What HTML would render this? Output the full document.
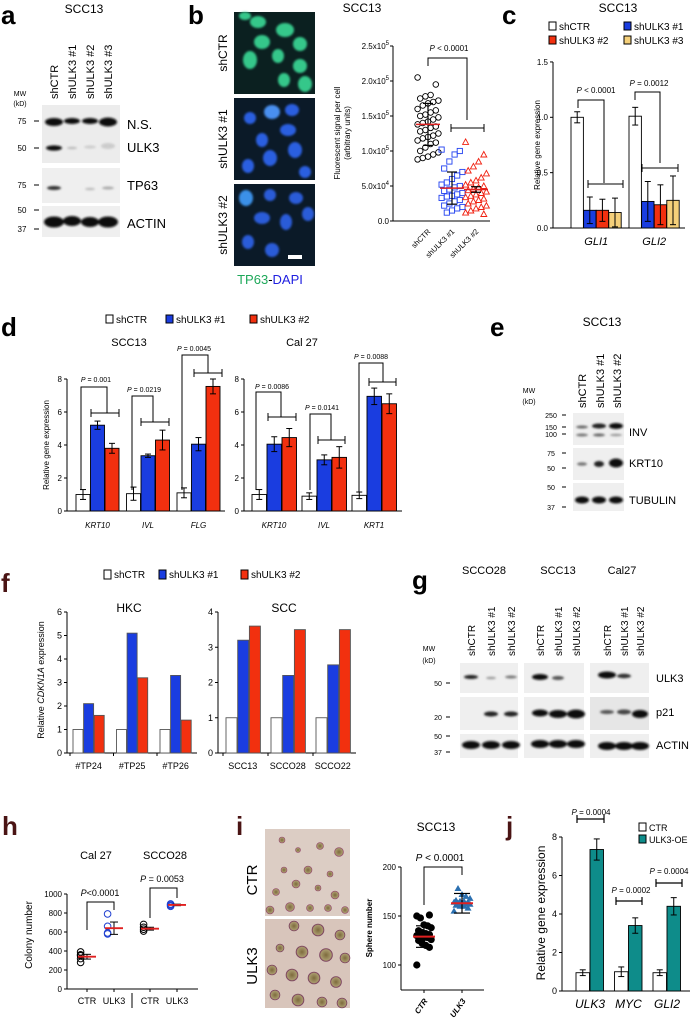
<!DOCTYPE html>
<html><head><meta charset="utf-8"><title>ULK3 figure</title>
<style>html,body{margin:0;padding:0;background:#fff}svg{display:block}</style></head>
<body>
<svg id="fig" xmlns="http://www.w3.org/2000/svg" width="697" height="1019" viewBox="0 0 697 1019" font-family="Liberation Sans, Arial, sans-serif">
<defs>
<filter id="bl" x="-50%" y="-100%" width="200%" height="300%"><feGaussianBlur stdDeviation="1.1"/></filter>
<filter id="bl2" x="-50%" y="-50%" width="200%" height="200%"><feGaussianBlur stdDeviation="1.6"/></filter>
<radialGradient id="sph" cx="50%" cy="50%" r="50%"><stop offset="0" stop-color="#7d6a3c"/><stop offset="0.8" stop-color="#a89a6c"/><stop offset="1" stop-color="#7a3a5a"/></radialGradient>
</defs>
<rect x="0" y="0" width="697" height="1019" fill="#fff"/>

<!-- Panel a -->
<g>
<text x="1" y="24" font-size="26" font-weight="bold">a</text>
<text x="84" y="13" text-anchor="middle" font-size="12">SCC13</text>
<g font-size="11">
<text transform="translate(58,99) rotate(-90)">shCTR</text>
<text transform="translate(76,99) rotate(-90)">shULK3 #1</text>
<text transform="translate(94,99) rotate(-90)">shULK3 #2</text>
<text transform="translate(112,99) rotate(-90)">shULK3 #3</text>
</g>
<text x="20" y="96" text-anchor="middle" font-size="7">MW</text>
<text x="20" y="106" text-anchor="middle" font-size="7">(kD)</text>
<rect x="42" y="105" width="78" height="58" fill="#ececec"/>
<g filter="url(#bl)" fill="#111">
<ellipse cx="54" cy="122" rx="9" ry="4"/><ellipse cx="72" cy="121" rx="8" ry="3"/><ellipse cx="90" cy="121" rx="8" ry="3"/><ellipse cx="108" cy="122" rx="9" ry="4.5"/>
<ellipse cx="54" cy="148" rx="8" ry="2.6"/><ellipse cx="72" cy="148" rx="5" ry="1.2" fill="#bbb"/><ellipse cx="90" cy="147" rx="6" ry="1.5" fill="#ccc"/><ellipse cx="108" cy="146" rx="7" ry="3" fill="#ccc"/>
</g>
<g font-size="8"><text x="22" y="124" text-anchor="middle">75</text><text x="22" y="151" text-anchor="middle">50</text>
<text x="22" y="188" text-anchor="middle">75</text><text x="22" y="213" text-anchor="middle">50</text><text x="22" y="232" text-anchor="middle">37</text></g>
<g stroke="#000" stroke-width="1"><line x1="34" y1="121" x2="39" y2="121"/><line x1="34" y1="148" x2="39" y2="148"/><line x1="34" y1="185" x2="39" y2="185"/><line x1="34" y1="210" x2="39" y2="210"/><line x1="34" y1="229" x2="39" y2="229"/></g>
<text x="127" y="129" font-size="13">N.S.</text>
<text x="127" y="152" font-size="13">ULK3</text>
<rect x="42" y="168" width="78" height="35" fill="#efefef"/>
<g filter="url(#bl)"><ellipse cx="54" cy="188" rx="7" ry="2" fill="#333"/><ellipse cx="90" cy="189" rx="5" ry="1.3" fill="#bbb"/><ellipse cx="108" cy="188" rx="6" ry="1.5" fill="#aaa"/></g>
<text x="127" y="190" font-size="13">TP63</text>
<rect x="42" y="206" width="78" height="31" fill="#efefef"/>
<g filter="url(#bl)" fill="#0a0a0a"><ellipse cx="54" cy="222" rx="10" ry="5.5"/><ellipse cx="72" cy="221" rx="9" ry="5"/><ellipse cx="90" cy="222" rx="9" ry="5"/><ellipse cx="108" cy="222" rx="10" ry="5.5"/></g>
<text x="127" y="228" font-size="13">ACTIN</text>
</g>

<!-- Panel b images -->
<g>
<text x="188" y="24" font-size="26" font-weight="bold">b</text>
<rect x="234" y="12" width="81" height="82" fill="#0b2020"/>
<g fill="#35c78a" filter="url(#bl)">
<ellipse cx="258" cy="22" rx="8" ry="6"/><ellipse cx="285" cy="30" rx="9" ry="7"/><ellipse cx="262" cy="42" rx="8" ry="7"/><ellipse cx="250" cy="60" rx="7" ry="9"/><ellipse cx="300" cy="44" rx="7" ry="7"/><ellipse cx="278" cy="56" rx="6" ry="7"/><ellipse cx="300" cy="66" rx="7" ry="7"/><ellipse cx="305" cy="84" rx="7" ry="8"/><ellipse cx="284" cy="80" rx="6" ry="7"/><ellipse cx="245" cy="16" rx="6" ry="4"/></g>
<rect x="234" y="98" width="81" height="82" fill="#0b1a28"/>
<g fill="#2c5fe0" filter="url(#bl)">
<ellipse cx="272" cy="112" rx="8" ry="7" fill="#4a8ff0"/><ellipse cx="292" cy="110" rx="7" ry="6"/><ellipse cx="250" cy="118" rx="6" ry="6"/><ellipse cx="262" cy="140" rx="6" ry="7"/><ellipse cx="288" cy="130" rx="8" ry="6"/><ellipse cx="270" cy="158" rx="7" ry="8"/><ellipse cx="295" cy="150" rx="7" ry="8"/><ellipse cx="248" cy="166" rx="6" ry="7"/><ellipse cx="305" cy="172" rx="6" ry="6"/></g>
<rect x="234" y="184" width="81" height="82" fill="#0b1a28"/>
<g fill="#2a5cd8" filter="url(#bl)">
<ellipse cx="246" cy="198" rx="7" ry="8" fill="#3a90e8"/><ellipse cx="270" cy="195" rx="6" ry="6"/><ellipse cx="296" cy="198" rx="7" ry="6"/><ellipse cx="262" cy="218" rx="8" ry="6"/><ellipse cx="286" cy="222" rx="6" ry="8"/><ellipse cx="308" cy="214" rx="6" ry="7"/><ellipse cx="248" cy="242" rx="6" ry="7"/><ellipse cx="272" cy="250" rx="7" ry="7"/></g>
<rect x="288" y="255" width="14" height="4" fill="#fff"/>
<g font-size="12">
<text transform="translate(227,53) rotate(-90)" text-anchor="middle">shCTR</text>
<text transform="translate(227,139) rotate(-90)" text-anchor="middle">shULK3 #1</text>
<text transform="translate(227,225) rotate(-90)" text-anchor="middle">shULK3 #2</text>
</g>
<text x="270" y="284" text-anchor="middle" font-size="13"><tspan fill="#1ea85a">TP63</tspan>-<tspan fill="#2020e0">DAPI</tspan></text>
</g>

<!-- Panel b chart -->
<g id="chartB">
<text x="362" y="12" text-anchor="middle" font-size="12">SCC13</text>
<text transform="translate(340,133) rotate(-90)" text-anchor="middle" font-size="8">Fluorescent signal per cell</text>
<text transform="translate(350,133) rotate(-90)" text-anchor="middle" font-size="8">(arbitrary units)</text>
<text x="449" y="51" text-anchor="middle" font-size="8"><tspan font-style="italic">P</tspan> &lt; 0.0001</text>
<path d="M428 66 V58 H467 V120 M451 124 V132 M451 128 H484 M484 124 V132" fill="none" stroke="#000" stroke-width="1"/>
</g>

<!-- Panel c -->
<g id="chartC">
<text x="502" y="24" font-size="26" font-weight="bold">c</text>
<text x="618" y="12" text-anchor="middle" font-size="12">SCC13</text>
<g font-size="10">
<rect x="549" y="22" width="7" height="8" fill="#fff" stroke="#000"/><text x="559" y="30">shCTR</text>
<rect x="624" y="22" width="7" height="8" fill="#1a3de0" stroke="#000"/><text x="634" y="30">shULK3 #1</text>
<rect x="549" y="36" width="7" height="8" fill="#f2300f" stroke="#000"/><text x="559" y="44">shULK3 #2</text>
<rect x="624" y="36" width="7" height="8" fill="#f5d07a" stroke="#000"/><text x="634" y="44">shULK3 #3</text>
</g>
<text transform="translate(540,145) rotate(-90)" text-anchor="middle" font-size="8">Relative gene expression</text>
<g font-size="8"><text x="596" y="93" text-anchor="middle"><tspan font-style="italic">P</tspan> &lt; 0.0001</text><text x="649" y="86" text-anchor="middle"><tspan font-style="italic">P</tspan> = 0.0012</text></g>
<path d="M578 108 V100 H604 V183 M588 180 V188 M588 184 H623 M623 180 V188 M635 100 V92 H660 V163 M642 164 V172 M642 168 H678 M678 164 V172" fill="none" stroke="#000" stroke-width="1"/>
</g>

<!-- Panel d -->
<g id="chartD">
<text x="1" y="336" font-size="26" font-weight="bold">d</text>
<g font-size="10">
<rect x="106" y="315" width="7" height="8" fill="#fff" stroke="#000"/><text x="116" y="323">shCTR</text>
<rect x="166" y="315" width="7" height="8" fill="#1a3de0" stroke="#000"/><text x="176" y="323">shULK3 #1</text>
<rect x="250" y="315" width="7" height="8" fill="#f2300f" stroke="#000"/><text x="260" y="323">shULK3 #2</text>
</g>
<text x="129" y="346" text-anchor="middle" font-size="11">SCC13</text>
<text x="302" y="346" text-anchor="middle" font-size="11">Cal 27</text>
<text transform="translate(49,445) rotate(-90)" text-anchor="middle" font-size="8">Relative gene expression</text>
<g font-size="7">
<text x="96" y="382" text-anchor="middle"><tspan font-style="italic">P</tspan> = 0.001</text>
<text x="144" y="392" text-anchor="middle"><tspan font-style="italic">P</tspan> = 0.0219</text>
<text x="194" y="351" text-anchor="middle"><tspan font-style="italic">P</tspan> = 0.0045</text>
<text x="272" y="389" text-anchor="middle"><tspan font-style="italic">P</tspan> = 0.0086</text>
<text x="322" y="410" text-anchor="middle"><tspan font-style="italic">P</tspan> = 0.0141</text>
<text x="371" y="359" text-anchor="middle"><tspan font-style="italic">P</tspan> = 0.0088</text>
</g>
<path fill="none" stroke="#000" stroke-width="1"
d="M81 490 V387 H107 V413 M91 409 V417 M91 413 H119 M119 409 V417
M132 490 V396 H153 V422 M141 418 V426 M141 422 H169 M169 418 V426
M182 490 V355 H208 V373 M194 369 V377 M194 373 H222 M222 369 V377
M256 490 V392 H281 V417 M268 413 V421 M268 417 H296 M296 413 V421
M310 490 V414 H331 V440 M318 436 V444 M318 440 H345 M345 436 V444
M359 492 V363 H383 V382 M369 378 V386 M369 382 H396 M396 378 V386"/>
</g>

<!-- Panel e -->
<g>
<text x="490" y="336" font-size="26" font-weight="bold">e</text>
<text x="602" y="326" text-anchor="middle" font-size="12">SCC13</text>
<g font-size="11">
<text transform="translate(586,408) rotate(-90)">shCTR</text>
<text transform="translate(604,408) rotate(-90)">shULK3 #1</text>
<text transform="translate(621,408) rotate(-90)">shULK3 #2</text>
</g>
<text x="529" y="393" text-anchor="middle" font-size="7">MW</text><text x="529" y="404" text-anchor="middle" font-size="7">(kD)</text>
<g font-size="7"><text x="551" y="418" text-anchor="middle">250</text><text x="551" y="430" text-anchor="middle">150</text><text x="551" y="437" text-anchor="middle">100</text>
<text x="551" y="456" text-anchor="middle">75</text><text x="551" y="471" text-anchor="middle">50</text><text x="551" y="490" text-anchor="middle">50</text><text x="551" y="510" text-anchor="middle">37</text></g>
<g stroke="#000"><line x1="562" y1="415" x2="566" y2="415"/><line x1="562" y1="427" x2="566" y2="427"/><line x1="562" y1="434" x2="566" y2="434"/><line x1="562" y1="453" x2="566" y2="453"/><line x1="562" y1="468" x2="566" y2="468"/><line x1="562" y1="487" x2="566" y2="487"/><line x1="562" y1="507" x2="566" y2="507"/></g>
<rect x="573" y="413" width="51" height="32" fill="#efefef"/>
<g filter="url(#bl)"><ellipse cx="582" cy="427" rx="6" ry="1.5" fill="#666"/><ellipse cx="599" cy="426" rx="7" ry="2.5" fill="#222"/><ellipse cx="616" cy="426" rx="7" ry="3" fill="#111"/>
<ellipse cx="582" cy="435" rx="6" ry="1.5" fill="#777"/><ellipse cx="599" cy="435" rx="6" ry="1.5" fill="#666"/><ellipse cx="616" cy="435" rx="6" ry="1.3" fill="#999"/></g>
<text x="629" y="436" font-size="11">INV</text>
<rect x="573" y="448" width="51" height="32" fill="#efefef"/>
<g filter="url(#bl)"><ellipse cx="582" cy="464" rx="5" ry="1.8" fill="#777"/><ellipse cx="599" cy="464" rx="5" ry="3" fill="#222"/><ellipse cx="616" cy="463" rx="7" ry="4.5" fill="#0a0a0a"/></g>
<text x="629" y="467" font-size="11">KRT10</text>
<rect x="573" y="483" width="51" height="28" fill="#efefef"/>
<g filter="url(#bl)" fill="#111"><ellipse cx="582" cy="500" rx="7" ry="3.5"/><ellipse cx="599" cy="500" rx="7" ry="3.5"/><ellipse cx="616" cy="500" rx="7" ry="3.5"/></g>
<text x="629" y="504" font-size="11">TUBULIN</text>
</g>

<!-- Panel f -->
<g id="chartF">
<text x="1" y="592" font-size="26" font-weight="bold" fill="#4a1414">f</text>
<g font-size="10">
<rect x="104" y="570" width="7" height="9" fill="#fff" stroke="#000"/><text x="114" y="578">shCTR</text>
<rect x="159" y="570" width="7" height="9" fill="#1a3de0" stroke="#000"/><text x="169" y="578">shULK3 #1</text>
<rect x="241" y="570" width="7" height="9" fill="#f2300f" stroke="#000"/><text x="251" y="578">shULK3 #2</text>
</g>
<text x="129" y="612" text-anchor="middle" font-size="12">HKC</text>
<text x="284" y="612" text-anchor="middle" font-size="12">SCC</text>
<text transform="translate(44,680) rotate(-90)" text-anchor="middle" font-size="9">Relative <tspan font-style="italic">CDKN1A</tspan> expression</text>
</g>

<!-- Panel g -->
<g>
<text x="412" y="589" font-size="26" font-weight="bold">g</text>
<g font-size="11" text-anchor="middle"><text x="484" y="574">SCCO28</text><text x="558" y="574">SCC13</text><text x="622" y="574">Cal27</text></g>
<g font-size="10">
<text transform="translate(475,656) rotate(-90)">shCTR</text><text transform="translate(495,656) rotate(-90)">shULK3 #1</text><text transform="translate(515,656) rotate(-90)">shULK3 #2</text>
<text transform="translate(544,656) rotate(-90)">shCTR</text><text transform="translate(562,656) rotate(-90)">shULK3 #1</text><text transform="translate(580,656) rotate(-90)">shULK3 #2</text>
<text transform="translate(611,656) rotate(-90)">shCTR</text><text transform="translate(628,656) rotate(-90)">shULK3 #1</text><text transform="translate(644,656) rotate(-90)">shULK3 #2</text>
</g>
<text x="429" y="651" text-anchor="middle" font-size="7">MW</text><text x="429" y="663" text-anchor="middle" font-size="7">(kD)</text>
<g font-size="7"><text x="438" y="686" text-anchor="middle">50</text><text x="438" y="720" text-anchor="middle">20</text><text x="438" y="739" text-anchor="middle">50</text><text x="438" y="755" text-anchor="middle">37</text></g>
<g stroke="#000"><line x1="446" y1="683" x2="450" y2="683"/><line x1="446" y1="717" x2="450" y2="717"/><line x1="446" y1="736" x2="450" y2="736"/><line x1="446" y1="752" x2="450" y2="752"/></g>
<g fill="#efefef"><rect x="460" y="663" width="58" height="30"/><rect x="524" y="663" width="60" height="30"/><rect x="590" y="663" width="59" height="30"/>
<rect x="460" y="697" width="58" height="33"/><rect x="524" y="697" width="60" height="33"/><rect x="590" y="697" width="59" height="33" fill="#e6e6e6"/>
<rect x="460" y="734" width="58" height="24"/><rect x="524" y="734" width="60" height="24"/><rect x="590" y="734" width="59" height="24"/></g>
<g filter="url(#bl)">
<ellipse cx="471" cy="677" rx="7" ry="2" fill="#222"/><ellipse cx="491" cy="678" rx="5" ry="1.2" fill="#999"/><ellipse cx="511" cy="677" rx="6" ry="1.5" fill="#777"/>
<ellipse cx="540" cy="677" rx="8" ry="3" fill="#111"/><ellipse cx="558" cy="678" rx="6" ry="2" fill="#555"/>
<ellipse cx="607" cy="675" rx="9" ry="3.5" fill="#111"/><ellipse cx="624" cy="676" rx="7" ry="2.2" fill="#333"/>
<ellipse cx="491" cy="714" rx="7" ry="2.5" fill="#222"/><ellipse cx="511" cy="714" rx="7" ry="2.5" fill="#222"/>
<ellipse cx="540" cy="713" rx="8" ry="3.5" fill="#111"/><ellipse cx="558" cy="714" rx="9" ry="4" fill="#0a0a0a"/><ellipse cx="576" cy="714" rx="9" ry="4.5" fill="#0a0a0a"/>
<ellipse cx="607" cy="712" rx="7" ry="2" fill="#555"/><ellipse cx="624" cy="712" rx="7" ry="2.5" fill="#444"/><ellipse cx="640" cy="714" rx="8" ry="4" fill="#111"/>
<ellipse cx="471" cy="745" rx="9" ry="4" fill="#111"/><ellipse cx="491" cy="745" rx="9" ry="4" fill="#111"/><ellipse cx="511" cy="745" rx="9" ry="4" fill="#111"/>
<ellipse cx="540" cy="744" rx="9" ry="4" fill="#111"/><ellipse cx="558" cy="744" rx="9" ry="4" fill="#111"/><ellipse cx="576" cy="744" rx="9" ry="4" fill="#111"/>
<ellipse cx="607" cy="746" rx="9" ry="4" fill="#111"/><ellipse cx="624" cy="746" rx="9" ry="4" fill="#111"/><ellipse cx="640" cy="746" rx="9" ry="4" fill="#111"/>
</g>
<g font-size="11"><text x="656" y="682">ULK3</text><text x="656" y="716">p21</text><text x="656" y="749">ACTIN</text></g>
</g>

<!-- Panel h -->
<g id="chartH">
<text x="2" y="835" font-size="26" font-weight="bold" fill="#4a1414">h</text>
<text x="96" y="859" text-anchor="middle" font-size="11">Cal 27</text>
<text x="165" y="859" text-anchor="middle" font-size="11">SCCO28</text>
<text x="100" y="896" text-anchor="middle" font-size="9"><tspan font-style="italic">P</tspan>&lt;0.0001</text>
<text x="162" y="882" text-anchor="middle" font-size="9"><tspan font-style="italic">P</tspan> = 0.0053</text>
<path d="M87 930 V902 H114 V910 M150 918 V888 H177 V898" fill="none" stroke="#000"/>
<text transform="translate(32,935) rotate(-90)" text-anchor="middle" font-size="10">Colony number</text>
<line x1="132" y1="993" x2="132" y2="1008" stroke="#000"/>
</g>

<!-- Panel i -->
<g>
<text x="236" y="835" font-size="26" font-weight="bold" fill="#4a1414">i</text>
<rect x="265" y="829" width="85" height="87" fill="#dccdc4"/>
<g fill="url(#sph)" stroke="#9a4f70" stroke-width="0.6">
<circle cx="282" cy="840" r="3"/><circle cx="298" cy="850" r="2.5"/><circle cx="320" cy="846" r="3.5"/><circle cx="339" cy="852" r="4.5"/><circle cx="284" cy="870" r="3"/><circle cx="308" cy="870" r="4"/><circle cx="330" cy="874" r="3"/><circle cx="276" cy="892" r="3.5"/><circle cx="296" cy="884" r="4"/><circle cx="318" cy="888" r="3"/><circle cx="335" cy="895" r="4"/><circle cx="270" cy="910" r="4"/><circle cx="290" cy="907" r="4.5"/><circle cx="310" cy="908" r="3.5"/><circle cx="328" cy="908" r="3.5"/><circle cx="345" cy="910" r="3.5"/></g>
<rect x="265" y="919" width="85" height="89" fill="#d8c5bb"/>
<g fill="url(#sph)" stroke="#7a3f60" stroke-width="0.6">
<circle cx="294" cy="926" r="5"/><circle cx="318" cy="930" r="6"/><circle cx="340" cy="935" r="5"/><circle cx="280" cy="948" r="4"/><circle cx="302" cy="952" r="6"/><circle cx="326" cy="955" r="6.5"/><circle cx="345" cy="958" r="5"/><circle cx="272" cy="970" r="5"/><circle cx="292" cy="975" r="6"/><circle cx="314" cy="978" r="6"/><circle cx="336" cy="982" r="5.5"/><circle cx="275" cy="995" r="5"/><circle cx="298" cy="1000" r="6"/><circle cx="322" cy="1002" r="5"/><circle cx="342" cy="1003" r="5"/></g>
<text transform="translate(257,880) rotate(-90)" text-anchor="middle" font-size="15">CTR</text>
<text transform="translate(257,966) rotate(-90)" text-anchor="middle" font-size="15">ULK3</text>
</g>
<g id="chartI">
<text x="436" y="831" text-anchor="middle" font-size="12">SCC13</text>
<text x="440" y="861" text-anchor="middle" font-size="10"><tspan font-style="italic">P</tspan> &lt; 0.0001</text>
<path d="M424 905 V867 H462 V875" fill="none" stroke="#000"/>
<text transform="translate(372,928) rotate(-90)" text-anchor="middle" font-size="8" font-weight="bold">Sphere number</text>
</g>

<!-- Panel j -->
<g id="chartJ">
<text x="506" y="835" font-size="26" font-weight="bold" fill="#4a1414">j</text>
<rect x="639" y="823" width="7" height="8" fill="#fff" stroke="#000"/><text x="649" y="831" font-size="9">CTR</text>
<rect x="639" y="835" width="7" height="8" fill="#0e8c8a" stroke="#000"/><text x="649" y="843" font-size="9">ULK3-OE</text>
<g font-size="8" text-anchor="middle"><text x="591" y="815"><tspan font-style="italic">P</tspan> = 0.0004</text><text x="631" y="893"><tspan font-style="italic">P</tspan> = 0.0002</text><text x="669" y="874"><tspan font-style="italic">P</tspan> = 0.0004</text></g>
<path d="M577 823 V815 M577 819 H604 M604 815 V823 M616 897 V905 M616 901 H642 M642 897 V905 M656 879 V887 M656 883 H682 M682 879 V887" fill="none" stroke="#000" stroke-width="1.2"/>
<text transform="translate(545,913) rotate(-90)" text-anchor="middle" font-size="12">Relative gene expression</text>
</g>
</svg>

<script>
// ---------- data ----------
const bCategories = ['shCTR', 'shULK3 #1', 'shULK3 #2'];
const bCtrValues = [2.05,1.95,1.8,1.78,1.75,1.72,1.7,1.68,1.65,1.6,1.58,1.55,1.52,1.5,1.48,1.45,1.42,1.4,1.38,1.35,1.33,1.3,1.28,1.25,1.22,1.2,1.18,1.15,1.12,1.1,1.05,1.0,0.98,0.95,0.92,0.9,0.88];
const bSh1Values = [1.02,1.0,0.95,0.85,0.75,0.7,0.65,0.6,0.55,0.52,0.5,0.48,0.45,0.43,0.4,0.38,0.36,0.35,0.33,0.3,0.28,0.25,0.22,0.2,0.18,0.15,0.12];
const bSh2Values = [1.13,0.95,0.85,0.78,0.72,0.68,0.62,0.58,0.55,0.52,0.5,0.48,0.46,0.44,0.42,0.4,0.38,0.36,0.34,0.32,0.3,0.28,0.25,0.22,0.2,0.18,0.15,0.12,0.1];
const bMeans = [1.38, 0.47, 0.45];
const bSds = [0.3, 0.23, 0.04];
const bTicks = [0, 0.5, 1.0, 1.5, 2.0, 2.5];
const bTickMant = ['0.0', '5.0', '1.0', '1.5', '2.0', '2.5'];
const bTickExp = ['', '4', '5', '5', '5', '5'];

const cGenes = ['GLI1', 'GLI2'];
const cCtr = [1.0, 1.01];
const cSh1 = [0.16, 0.24];
const cSh2 = [0.16, 0.21];
const cSh3 = [0.14, 0.25];
const cSdCtr = [0.05, 0.08];
const cSd1 = [0.12, 0.18];
const cSd2 = [0.1, 0.18];
const cSd3 = [0.13, 0.22];
const cTicks = [0, 0.5, 1.0, 1.5];
const cTickLabels = ['0.0', '0.5', '1.0', '1.5'];

const dSccGenes = ['KRT10', 'IVL', 'FLG'];
const dSccCtr = [1.0, 1.05, 1.1];
const dSccSh1 = [5.2, 3.35, 4.05];
const dSccSh2 = [3.8, 4.3, 7.55];
const dSccSdCtr = [0.3, 0.4, 0.3];
const dSccSd1 = [0.25, 0.1, 0.4];
const dSccSd2 = [0.3, 0.6, 0.45];
const dCalGenes = ['KRT10', 'IVL', 'KRT1'];
const dCalCtr = [1.0, 0.9, 0.95];
const dCalSh1 = [4.05, 3.1, 6.95];
const dCalSh2 = [4.45, 3.25, 6.5];
const dCalSdCtr = [0.3, 0.2, 0.2];
const dCalSd1 = [0.45, 0.3, 0.5];
const dCalSd2 = [0.55, 0.65, 0.6];
const dTicks = [0, 2, 4, 6, 8];

const fHkcCats = ['#TP24', '#TP25', '#TP26'];
const fHkcCtr = [1, 1, 1];
const fHkcSh1 = [2.1, 5.1, 3.3];
const fHkcSh2 = [1.6, 3.2, 1.4];
const fHkcTicks = [0, 1, 2, 3, 4, 5, 6];
const fSccCats = ['SCC13', 'SCCO28', 'SCCO22'];
const fSccCtr = [1, 1, 1];
const fSccSh1 = [3.2, 2.2, 2.5];
const fSccSh2 = [3.6, 3.5, 3.5];
const fSccTicks = [0, 1, 2, 3, 4];

const hCats = ['CTR', 'ULK3', 'CTR', 'ULK3'];
const hCal27Ctr = [280, 320, 350, 360, 390];
const hCal27Ulk3 = [580, 590, 660, 790];
const hScco28Ctr = [610, 630, 650, 680];
const hScco28Ulk3 = [870, 880, 890, 895];
const hMeans = [340, 640, 635, 885];
const hSems = [25, 65, 15, 8];
const hTicks = [0, 200, 400, 600, 800, 1000];

const iCats = ['CTR', 'ULK3'];
const iCtr = [100,118,120,122,125,126,128,128,130,130,131,132,133,135,138,140,141,148,150,151];
const iUlk3 = [155,158,160,160,161,162,162,163,163,164,164,165,165,166,168,170,172,178];
const iMeans = [129, 163];
const iSds = [11, 10];
const iTicks = [100, 150, 200];

const jGenes = ['ULK3', 'MYC', 'GLI2'];
const jCtr = [0.95, 1.0, 0.95];
const jOe = [7.35, 3.4, 4.4];
const jSdCtr = [0.15, 0.25, 0.15];
const jSdOe = [0.55, 0.4, 0.45];
const jTicks = [0, 2, 4, 6, 8];

// ---------- helpers ----------
const NS = 'http://www.w3.org/2000/svg';
function add(parent, tag, attrs) {
  const el = document.createElementNS(NS, tag);
  for (const k in attrs) el.setAttribute(k, attrs[k]);
  parent.appendChild(el);
  return el;
}
function nm(el, name) {
  
  
  return el;
}
function ln(p, x1, y1, x2, y2, stroke, w) {
  return add(p, 'line', {x1, y1, x2, y2, stroke: stroke || '#000', 'stroke-width': w || 1});
}
function txt(p, x, y, s, size, anchor, extra) {
  const t = add(p, 'text', Object.assign({x, y, 'font-size': size, 'text-anchor': anchor || 'middle'}, extra || {}));
  t.textContent = s;
  return t;
}
function yAxis(p, x, yf, ticks, labels, size, top, bottom, name) {
  const a = ln(p, x, top, x, bottom, '#000', 1);
  nm(a, name + '-y-axis');
  ticks.forEach((v, i) => {
    ln(p, x - 3, yf(v), x, yf(v));
    const t = txt(p, x - 5, yf(v) + size * 0.35, labels[i], size, 'end');
    nm(t, name + '-y-tick-label');
  });
}
function errBar(p, cx, yTop, yBot, cap, color, w) {
  ln(p, cx, yTop, cx, yBot, color || '#000', w || 1);
  ln(p, cx - cap, yTop, cx + cap, yTop, color || '#000', w || 1);
  ln(p, cx - cap, yBot, cx + cap, yBot, color || '#000', w || 1);
}
function drawBars(p, cats, series, sds, fills, xf, bw, yf, tag, stroke) {
  series.forEach((ser, s) => ser.forEach((v, i) => {
    const x = xf(i, s);
    const r = add(p, 'rect', {x, y: yf(v), width: bw, height: yf(0) - yf(v), fill: fills[s], stroke: stroke || '#000', 'stroke-width': 0.9});
    nm(r, tag + '-bar-' + cats[i].toLowerCase().replace('#', '') + '-series' + (s + 1));
    if (sds) {
      const sd = sds[s][i];
      errBar(p, x + bw / 2, yf(v + sd), yf(Math.max(0, v - sd)), 3);
    }
  }));
}

// ---------- panel b ----------
(function () {
  const g = document.getElementById('chartB');
  const yf = v => 221 - v * 70;
  const xf = i => 428 + i * 24;
  const jit = i => ((i * 7) % 9 - 4) * 2.6;
  ln(g, 393, 221, 490, 221);
  bTicks.forEach((v, i) => {
    ln(g, 390, yf(v), 393, yf(v));
    const t = add(g, 'text', {x: 389, y: yf(v) + 3, 'font-size': 8, 'text-anchor': 'end'});
    t.textContent = bTickMant[i] + (bTickExp[i] ? 'x10' : '');
    if (bTickExp[i]) { const s = add(t, 'tspan', {dy: -4, 'font-size': 6}); s.textContent = bTickExp[i]; }
    nm(t, 'panel-b-y-tick-label');
  });
  nm(ln(g, 393, 46, 393, 221), 'panel-b-y-axis');
  const sets = [bCtrValues, bSh1Values, bSh2Values];
  const cols = ['#000', '#2040f0', '#f02010'];
  sets.forEach((set, c) => set.forEach((v, i) => {
    let m;
    if (c === 0) m = add(g, 'circle', {cx: xf(c) + jit(i), cy: yf(v), r: 2.8, fill: 'none', stroke: cols[c], 'stroke-width': 0.9});
    else if (c === 1) m = add(g, 'rect', {x: xf(c) + jit(i) - 2.6, y: yf(v) - 2.6, width: 5.2, height: 5.2, fill: 'none', stroke: cols[c], 'stroke-width': 0.9});
    else { const x = xf(c) + jit(i), y = yf(v); m = add(g, 'path', {d: `M${x} ${y - 3}L${x + 3} ${y + 2.5}L${x - 3} ${y + 2.5}Z`, fill: 'none', stroke: cols[c], 'stroke-width': 0.9}); }
    nm(m, 'panel-b-point-' + bCategories[c].replace(/[ #]/g, '').toLowerCase());
  }));
  bMeans.forEach((m, c) => {
    errBar(g, xf(c), yf(m + bSds[c]), yf(m - bSds[c]), 5, '#000', 1.2);
    nm(ln(g, xf(c) - 12, yf(m), xf(c) + 12, yf(m), '#e02020', 1.5), 'panel-b-mean-' + c);
    const t = add(g, 'text', {transform: `translate(${xf(c) + 3},${232}) rotate(-45)`, 'font-size': 7.5, 'text-anchor': 'end'});
    t.textContent = bCategories[c];
    nm(t, 'panel-b-x-label');
  });
})();

// ---------- panel c ----------
(function () {
  const g = document.getElementById('chartC');
  const yf = v => 228 - v * 110.7;
  const xf = (i, s) => 571 + i * 58 + s * 12.6;
  yAxis(g, 553, yf, cTicks, cTickLabels, 8, 62, 228, 'panel-c');
  ln(g, 553, 228, 685, 228);
  drawBars(g, cGenes, [cCtr, cSh1, cSh2, cSh3], [cSdCtr, cSd1, cSd2, cSd3], ['#fff', '#1a3de0', '#f2300f', '#f5d07a'], xf, 12.4, yf, 'panel-c');
  cGenes.forEach((gn, i) => {
    const t = txt(g, xf(i, 2), 245, gn, 11, 'middle', {'font-style': 'italic'});
    nm(t, 'panel-c-x-label');
  });
})();

// ---------- panel d ----------
(function () {
  const g = document.getElementById('chartD');
  const yf = v => 511 - v * 16.5;
  const lbl = dTicks.map(String);
  const fills = ['#fff', '#1a3de0', '#f2300f'];
  const xs = (i, s) => 76 + i * 50.5 + s * 14.5;
  const xc = (i, s) => 252 + i * 50 + s * 15;
  yAxis(g, 67, yf, dTicks, lbl, 8, 379, 511, 'panel-d-scc13');
  ln(g, 67, 511, 225, 511);
  yAxis(g, 244, yf, dTicks, lbl, 8, 379, 511, 'panel-d-cal27');
  ln(g, 244, 511, 402, 511);
  drawBars(g, dSccGenes, [dSccCtr, dSccSh1, dSccSh2], [dSccSdCtr, dSccSd1, dSccSd2], fills, xs, 14, yf, 'panel-d-scc13');
  drawBars(g, dCalGenes, [dCalCtr, dCalSh1, dCalSh2], [dCalSdCtr, dCalSd1, dCalSd2], fills, xc, 14.5, yf, 'panel-d-cal27');
  dSccGenes.forEach((gn, i) => nm(txt(g, xs(i, 1) + 7, 528, gn, 8, 'middle', {'font-style': 'italic'}), 'panel-d-scc13-x-label'));
  dCalGenes.forEach((gn, i) => nm(txt(g, xc(i, 1) + 7, 528, gn, 8, 'middle', {'font-style': 'italic'}), 'panel-d-cal27-x-label'));
})();

// ---------- panel f ----------
(function () {
  const g = document.getElementById('chartF');
  const fills = ['#fff', '#1a3de0', '#f2300f'];
  const yh = v => 753 - v * 23.5;
  const ys = v => 753 - v * 35.25;
  const xh = (i, s) => 73 + i * 43.5 + s * 10.6;
  const xs = (i, s) => 226 + i * 45 + s * 11.7;
  yAxis(g, 67, yh, fHkcTicks, fHkcTicks.map(String), 9, 612, 753, 'panel-f-hkc');
  ln(g, 67, 753, 197, 753);
  yAxis(g, 218, ys, fSccTicks, fSccTicks.map(String), 9, 612, 753, 'panel-f-scc');
  ln(g, 218, 753, 356, 753);
  drawBars(g, fHkcCats, [fHkcCtr, fHkcSh1, fHkcSh2], null, fills, xh, 10, yh, 'panel-f-hkc', '#555');
  drawBars(g, fSccCats, [fSccCtr, fSccSh1, fSccSh2], null, fills, xs, 11, ys, 'panel-f-scc', '#555');
  fHkcCats.forEach((c, i) => { ln(g, xh(i, 0) - 3, 753, xh(i, 0) - 3, 756); nm(txt(g, xh(i, 1) + 5, 769, c, 9), 'panel-f-hkc-x-label'); });
  fSccCats.forEach((c, i) => { ln(g, xs(i, 0) - 3, 753, xs(i, 0) - 3, 756); nm(txt(g, xs(i, 1) + 5, 769, c, 9), 'panel-f-scc-x-label'); });
})();

// ---------- panel h ----------
(function () {
  const g = document.getElementById('chartH');
  const yf = v => 989 - v * 0.095;
  const xf = i => 87 + i * 27 + (i >= 2 ? 9 : 0);
  yAxis(g, 67, yf, hTicks, hTicks.map(String), 8, 894, 989, 'panel-h');
  ln(g, 67, 989, 198, 989);
  const sets = [hCal27Ctr, hCal27Ulk3, hScco28Ctr, hScco28Ulk3];
  const cols = ['#000', '#2040d0', '#000', '#2040d0'];
  sets.forEach((set, c) => set.forEach((v, i) => {
    const off = ((i * 5) % 5 - 2) * 3.2;
    const m = add(g, 'circle', {cx: xf(c) + off, cy: yf(v), r: 3.3, fill: 'none', stroke: cols[c], 'stroke-width': 1});
    nm(m, 'panel-h-point');
  }));
  hMeans.forEach((m, c) => {
    errBar(g, xf(c), yf(m + hSems[c]), yf(m - hSems[c]), 4);
    nm(ln(g, xf(c) - 9, yf(m), xf(c) + 9, yf(m), '#e02020', 1.8), 'panel-h-mean');
    ln(g, xf(c), 989, xf(c), 992);
    nm(txt(g, xf(c), 1004, hCats[c], 9), 'panel-h-x-label');
  });
})();

// ---------- panel i ----------
(function () {
  const g = document.getElementById('chartI');
  const yf = v => 965 - (v - 100) * 0.98;
  const xf = i => 424 + i * 38;
  yAxis(g, 401, yf, iTicks, iTicks.map(String), 8, 867, 990, 'panel-i');
  ln(g, 401, 990, 484, 990);
  iCtr.forEach((v, i) => {
    const off = ((i * 7) % 9 - 4) * 1.8;
    nm(add(g, 'circle', {cx: xf(0) + off, cy: yf(v), r: 3.6, fill: '#000'}), 'panel-i-point-ctr');
  });
  iUlk3.forEach((v, i) => {
    const x = xf(1) + ((i * 7) % 9 - 4) * 2, y = yf(v);
    nm(add(g, 'path', {d: `M${x} ${y - 3.5}L${x + 3.5} ${y + 2.5}L${x - 3.5} ${y + 2.5}Z`, fill: '#2a6fb0'}), 'panel-i-point-ulk3');
  });
  iMeans.forEach((m, c) => {
    errBar(g, xf(c), yf(m + iSds[c]), yf(m - iSds[c]), 8, '#000', 1.2);
    nm(ln(g, xf(c) - 11, yf(m), xf(c) + 11, yf(m), '#e02020', 2), 'panel-i-mean');
    ln(g, xf(c), 990, xf(c), 993);
    const t = add(g, 'text', {transform: `translate(${xf(c) + 4},${1001}) rotate(-55)`, 'font-size': 8, 'font-weight': 'bold', 'font-style': 'italic', 'text-anchor': 'end'});
    t.textContent = iCats[c];
    nm(t, 'panel-i-x-label');
  });
})();

// ---------- panel j ----------
(function () {
  const g = document.getElementById('chartJ');
  const yf = v => 991 - v * 19.25;
  const xf = (i, s) => 576 + i * 38.5 + s * 14;
  yAxis(g, 562, yf, jTicks, jTicks.map(String), 9, 837, 991, 'panel-j');
  ln(g, 562, 991, 690, 991);
  drawBars(g, jGenes, [jCtr, jOe], [jSdCtr, jSdOe], ['#fff', '#0e8c8a'], xf, 13.5, yf, 'panel-j');
  jGenes.forEach((gn, i) => nm(txt(g, xf(i, 1), 1008, gn, 12, 'middle', {'font-style': 'italic'}), 'panel-j-x-label'));
})();
</script>
</body></html>
